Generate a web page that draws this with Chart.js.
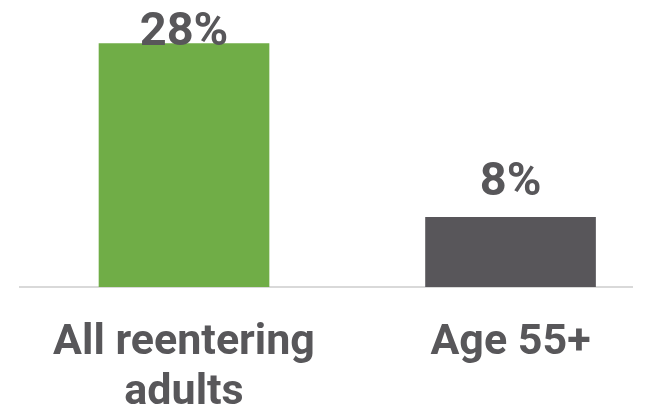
<!DOCTYPE html>
<html>
<head>
<meta charset="utf-8">
<script src="https://cdn.jsdelivr.net/npm/chart.js@4"></script>
<style>
  html, body { margin: 0; padding: 0; background: #ffffff; }
  #wrap { width: 653px; height: 409px; position: relative; }
</style>
</head>
<body>
<div id="wrap"><canvas id="c"></canvas></div>
<script>
const categories = [["All reentering", "adults"], ["Age 55+"]];
const positions = [0, 1];
const values = [28, 8];
const barColors = ["#70AD47", "#58565A"];

const textColor = "#58575A";

const valueLabels = {
  id: "valueLabels",
  afterDatasetsDraw(chart) {
    const ctx = chart.ctx;
    const meta = chart.getDatasetMeta(0);
    ctx.save();
    ctx.font = "bold 47px Roboto";
    ctx.fillStyle = textColor;
    ctx.textAlign = "center";
    ctx.textBaseline = "alphabetic";
    meta.data.forEach((bar, i) => {
      const y = Math.max(bar.y - 22, 45);
      ctx.fillText(values[i] + "%", bar.x, y);
    });
    ctx.restore();
  }
};

new Chart(document.getElementById("c"), {
  type: "bar",
  data: {
    datasets: [{
      data: positions.map((x, i) => ({ x: x, y: values[i] })),
      backgroundColor: barColors,
      borderWidth: 0,
      barThickness: 170
    }]
  },
  options: {
    responsive: true,
    maintainAspectRatio: false,
    animation: false,
    layout: { padding: { left: 20, right: 21, top: 0, bottom: 0 } },
    plugins: { legend: { display: false }, tooltip: { enabled: false } },
    scales: {
      x: {
        type: "linear",
        offset: false,
        min: -0.5023,
        max: 1.372,
        afterBuildTicks: (scale) => { scale.ticks = positions.map(v => ({ value: v })); },
        afterFit: (scale) => { scale.height = 122; },
        grid: { display: false, offset: false },
        border: { display: true, color: "#D9D9D9", width: 2 },
        ticks: {
          autoSkip: false,
          maxRotation: 0,
          padding: 24,
          color: textColor,
          font: { family: "Roboto", weight: "bold", size: 43, lineHeight: 1.15 },
          callback: (v) => categories[positions.indexOf(v)]
        }
      },
      y: {
        display: false,
        min: 0,
        max: 33
      }
    }
  },
  plugins: [valueLabels]
});
</script>
</body>
</html>
